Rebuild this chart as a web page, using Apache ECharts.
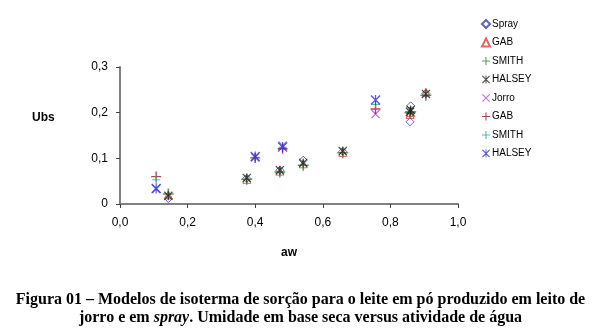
<!DOCTYPE html>
<html><head><meta charset="utf-8">
<script src="https://cdn.jsdelivr.net/npm/echarts@6/dist/echarts.min.js"></script>
<style>html,body{margin:0;padding:0;background:#fff}#c{width:601px;height:329px}</style>
</head><body><div id="c"></div>
<script>
// Spray data
const awSpray = [0.143, 0.375, 0.473, 0.542, 0.659, 0.858, 0.860, 0.905];
const spray   = [0.012, 0.056, 0.074, 0.096, 0.115, 0.180, 0.215, 0.242];
const gabSpray    = [0.020, 0.054, 0.072, 0.088, 0.113, 0.196, 0.200, 0.245];
const smithSpray  = [0.022, 0.054, 0.070, 0.085, 0.112, 0.200, 0.202, 0.238];
const halseySpray = [0.018, 0.057, 0.074, 0.090, 0.116, 0.202, 0.206, 0.241];
// Jorro data
const awJorro = [0.107, 0.400, 0.481, 0.756];
const jorro       = [0.033, 0.102, 0.128, 0.197];
const gabJorro    = [0.060, 0.101, 0.121, 0.208];
const smithJorro  = [0.053, 0.102, 0.124, 0.218];
const halseyJorro = [0.034, 0.104, 0.125, 0.228];

const xTicks = ['0,0','0,2','0,4','0,6','0,8','1,0'];
const yTicks = ['0','0,1','0,2','0,3'];

const PLUS = 'path://M0,4.3H10V5.7H0Z M4.3,0H5.7V10H4.3Z';
const XS = 'path://M0,1L1,0L10,9L9,10Z M9,0L10,1L1,10L0,9Z';
const STAR = 'path://M0,1L1,0L10,9L9,10Z M9,0L10,1L1,10L0,9Z M4.4,0H5.6V10H4.4Z';

function pts(xs, ys){ return xs.map((x,i)=>[x, ys[i]]); }

const series = [
  {name:'Spray', data:pts(awSpray, spray), symbol:'diamond', symbolSize:8,
   itemStyle:{color:'rgba(255,255,255,0)', borderColor:'#3a3ab0', borderWidth:1}},
  {name:'GAB', data:pts(awSpray, gabSpray), symbol:'triangle', symbolSize:8,
   itemStyle:{color:'rgba(255,255,255,0)', borderColor:'#e0403a', borderWidth:1}},
  {name:'SMITH', data:pts(awSpray, smithSpray), symbol:PLUS, symbolSize:11,
   itemStyle:{color:'#2e8b3a'}},
  {name:'HALSEY', data:pts(awSpray, halseySpray), symbol:STAR, symbolSize:9,
   itemStyle:{color:'#222222'}},
  {name:'Jorro', data:pts(awJorro, jorro), symbol:XS, symbolSize:9,
   itemStyle:{color:'#b050c8'}},
  {name:'GAB ', data:pts(awJorro, gabJorro), symbol:PLUS, symbolSize:10,
   itemStyle:{color:'#a01828'}},
  {name:'SMITH ', data:pts(awJorro, smithJorro), symbol:PLUS, symbolSize:8,
   itemStyle:{color:'#30a8a0'}},
  {name:'HALSEY ', data:pts(awJorro, halseyJorro), symbol:STAR, symbolSize:10,
   itemStyle:{color:'#3030e0'}}
].map(s => Object.assign({type:'scatter', z:2}, s));

const chart = echarts.init(document.getElementById('c'), null, {renderer:'canvas'});
const axisCommon = {
  axisLine:{show:true, lineStyle:{color:'#808080', width:2}},
  axisTick:{show:true, inside:false, length:4, lineStyle:{color:'#404040', width:1}},
  splitLine:{show:false},
  axisLabel:{color:'#000', fontFamily:'Arial, Liberation Sans', fontSize:12}
};
chart.setOption({
  animation:false,
  backgroundColor:'#fff',
  grid:{left:120, top:67, right:143, bottom:125, containLabel:false},
  xAxis: Object.assign({}, axisCommon, {
    type:'value', min:0, max:1, interval:0.2,
    name:'aw', nameLocation:'middle', nameGap:43,
    nameTextStyle:{fontWeight:'bold', fontSize:12, fontFamily:'Arial, Liberation Sans', color:'#000'},
    axisLabel:Object.assign({}, axisCommon.axisLabel, {margin:13,
      formatter:(v)=>xTicks[Math.round(v/0.2)]})
  }),
  yAxis: Object.assign({}, axisCommon, {
    type:'value', min:0, max:0.3, interval:0.1,
    axisLabel:Object.assign({}, axisCommon.axisLabel, {margin:12,
      formatter:(v)=>yTicks[Math.round(v/0.1)]})
  }),
  legend:{
    orient:'vertical', left:476, top:14, itemWidth:8, itemHeight:8, itemGap:8.5,
    textStyle:{fontFamily:'Arial, Liberation Sans', fontSize:10, color:'#000', padding:[0,0,0,-3]},
    data:series.map(s=>s.name)
  },
  graphic:[{
    type:'text', left:32, top:112,
    style:{text:'Ubs', font:'bold 12px Arial, "Liberation Sans"', fill:'#000'}
  },{
    type:'text', left:'center', top:291,
    style:{
      text:'Figura 01 – Modelos de isoterma de sorção para o leite em pó produzido em leito de\n{n|jorro e em }{i|spray}{n|. Umidade em base seca versus atividade de água}',
      font:'bold 16px "Liberation Serif", "Times New Roman", serif',
      fill:'#000', textAlign:'center', lineHeight:18,
      rich:{
        n:{font:'bold 16px "Liberation Serif", serif', fill:'#000', lineHeight:18},
        i:{font:'italic bold 16px "Liberation Serif", serif', fill:'#000', lineHeight:18}
      }
    }
  }],
  series:series
});
</script></body></html>
